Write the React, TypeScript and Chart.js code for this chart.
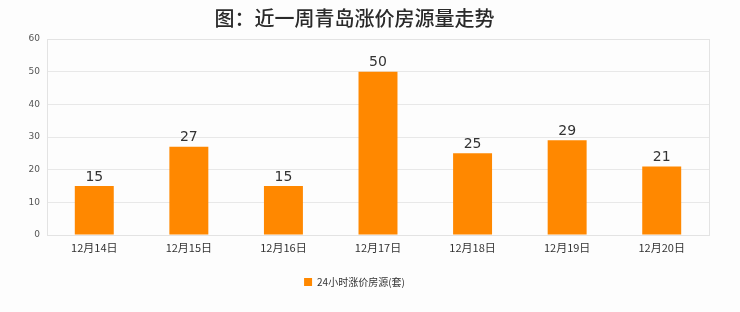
import React, { useEffect, useRef } from "react";
import { Chart, registerables } from "chart.js";

Chart.register(...registerables);

const categories = ["12月14日", "12月15日", "12月16日", "12月17日", "12月18日", "12月19日", "12月20日"];
const seriesValues = [15, 27, 15, 50, 25, 29, 21];
const seriesName = "24小时涨价房源(套)";
const titleText = "图：近一周青岛涨价房源量走势";
const yMax = 60;
const yStep = 10;

const CJK = '"Noto Sans CJK SC", "Noto Sans", sans-serif';

const bgPlugin = {
  id: "bg",
  beforeDraw(chart: any) {
    const { ctx, width, height } = chart;
    ctx.save();
    ctx.fillStyle = "#fdfdfd";
    ctx.fillRect(0, 0, width, height);
    ctx.restore();
  },
};

const borderPlugin = {
  id: "plotBorder",
  beforeDatasetsDraw(chart: any) {
    const { ctx, chartArea } = chart;
    ctx.save();
    ctx.strokeStyle = "#e3e3e3";
    ctx.lineWidth = 1;
    ctx.strokeRect(
      Math.round(chartArea.left) + 0.5,
      Math.round(chartArea.top) + 0.5,
      Math.round(chartArea.right - chartArea.left),
      Math.round(chartArea.bottom - chartArea.top)
    );
    ctx.restore();
  },
};

const labelPlugin = {
  id: "valueLabels",
  afterDatasetsDraw(chart: any) {
    const { ctx } = chart;
    const meta = chart.getDatasetMeta(0);
    const data = chart.data.datasets[0].data as number[];
    ctx.save();
    ctx.font = `14px "DejaVu Sans", ${CJK}`;
    ctx.fillStyle = "#333333";
    ctx.textAlign = "center";
    ctx.textBaseline = "bottom";
    meta.data.forEach((bar: any, i: number) => {
      ctx.fillText(String(data[i]), bar.x, bar.y - 2);
    });
    ctx.restore();
  },
};

export default function App() {
  const ref = useRef<HTMLCanvasElement | null>(null);

  useEffect(() => {
    document.body.style.margin = "0";
    const canvas = ref.current;
    if (!canvas) return;
    const chart = new Chart(canvas, {
      type: "bar",
      data: {
        labels: categories,
        datasets: [
          {
            label: seriesName,
            data: seriesValues,
            backgroundColor: "#ff8800",
            borderWidth: 0,
            categoryPercentage: 1,
            barPercentage: 0.412,
          },
        ],
      },
      options: {
        responsive: false,
        animation: false,
        devicePixelRatio: 1,
        layout: { padding: { left: 0, right: 31, top: 0, bottom: 15 } },
        plugins: {
          title: {
            display: true,
            text: titleText,
            color: "#2a2a2a",
            font: { family: CJK, size: 20, weight: "500", lineHeight: 1.2 },
            padding: { top: 6, bottom: 9 },
          },
          legend: {
            display: true,
            position: "bottom",
            labels: {
              boxWidth: 8,
              boxHeight: 8,
              color: "#333333",
              font: { family: CJK, size: 10 },
              padding: 10,
            },
          },
          tooltip: { enabled: false },
        },
        scales: {
          x: {
            grid: { display: false, drawTicks: false },
            border: { display: false },
            ticks: {
              color: "#333333",
              font: { family: CJK, size: 11 },
              padding: 6,
              maxRotation: 0,
            },
            afterFit(scale: any) {
              scale.height = 32;
            },
          },
          y: {
            min: 0,
            max: yMax,
            grid: { color: "#e8e8e8", drawTicks: false },
            border: { display: false },
            ticks: {
              stepSize: yStep,
              color: "#555555",
              font: { family: '"DejaVu Sans", sans-serif', size: 9 },
              padding: 7,
            },
            afterFit(scale: any) {
              scale.width = 47;
            },
          },
        },
      },
      plugins: [bgPlugin, borderPlugin, labelPlugin],
    });
    return () => chart.destroy();
  }, []);

  return (
    <div style={{ width: 740, height: 312 }}>
      <canvas ref={ref} width={740} height={312} style={{ display: "block" }} />
    </div>
  );
}
